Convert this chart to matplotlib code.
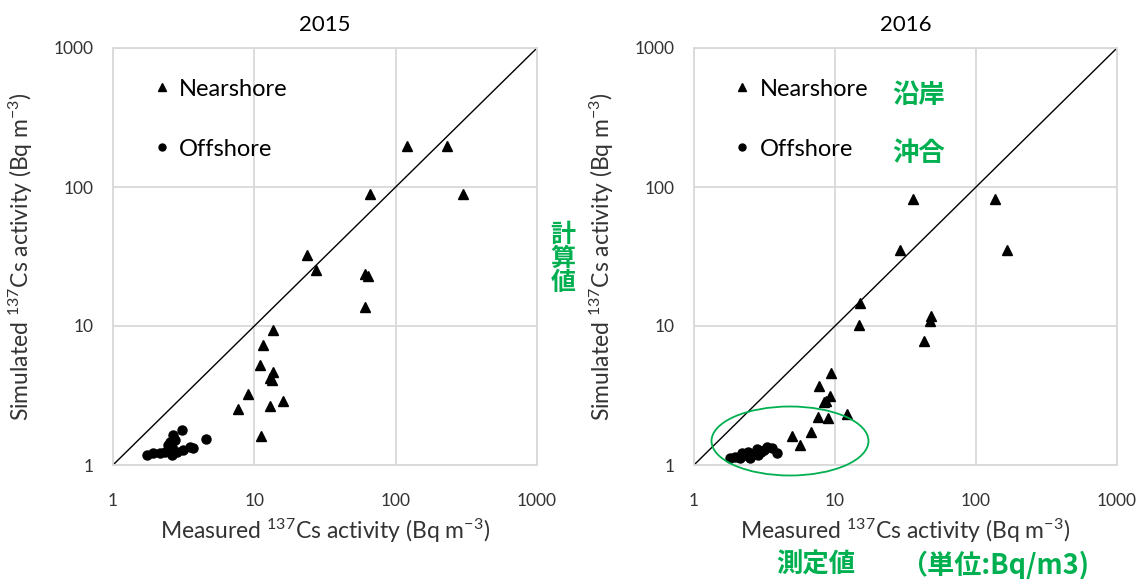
import matplotlib
matplotlib.use("Agg")
import matplotlib.pyplot as plt
from matplotlib.lines import Line2D
from matplotlib.patches import Ellipse

plt.rcParams['font.family'] = ['Lato', 'Noto Sans CJK JP', 'DejaVu Sans']
plt.rcParams['mathtext.default'] = 'regular'
plt.rcParams['axes.unicode_minus'] = False

years = ["2015", "2016"]

# 2015 data (Bq m-3)
near_x_2015 = [121, 230, 301, 66, 23.7, 27.3, 60.7, 64, 60.7, 13.5, 11.5, 10.9,
               13.5, 13.3, 13.0, 9.07, 7.7, 15.9, 12.9, 11.2]
near_y_2015 = [197, 197, 89, 89, 32.4, 25.3, 23.5, 22.9, 13.8, 9.36, 7.3, 5.24,
               4.69, 4.09, 4.2, 3.23, 2.52, 2.9, 2.66, 1.62]
off_x_2015 = [3.06, 4.55, 2.67, 2.53, 2.6, 3.5, 3.7, 3.15, 1.73, 1.93, 2.15, 2.33,
              2.6, 2.82, 2.46, 2.75]
off_y_2015 = [1.79, 1.53, 1.64, 1.47, 1.35, 1.35, 1.32, 1.28, 1.18, 1.21, 1.21, 1.25,
              1.18, 1.25, 1.39, 1.51]

# 2016 data (Bq m-3)
near_x_2016 = [35.7, 137, 28.8, 167, 15.1, 14.8, 48.2, 46.9, 42.6, 9.44, 7.72, 9.19,
               8.7, 8.33, 7.6, 8.94, 12.1, 6.81, 4.97, 5.63]
near_y_2016 = [81.5, 81.5, 35.2, 35.2, 14.7, 10.2, 11.8, 10.9, 7.8, 4.61, 3.7, 3.14,
               2.9, 2.85, 2.23, 2.17, 2.33, 1.74, 1.62, 1.39]
off_x_2016 = [1.80, 1.95, 2.12, 2.3, 2.43, 2.63, 2.78, 3.01, 3.27, 3.55, 3.89, 2.5,
              2.85, 2.2, 3.15]
off_y_2016 = [1.12, 1.15, 1.13, 1.18, 1.25, 1.2, 1.3, 1.25, 1.35, 1.32, 1.23, 1.13,
              1.18, 1.22, 1.28]

ticks = [1, 10, 100, 1000]
tick_labels = ["1", "10", "100", "1000"]

green = "#00b050"
grid_col = "#d9d9d9"

fig = plt.figure(figsize=(11.43, 5.79), dpi=100)
W, H = 1143, 579
ax1 = fig.add_axes([113 / W, (579 - 465) / H, 424 / W, 417 / H])
ax2 = fig.add_axes([694 / W, (579 - 465) / H, 423 / W, 417 / H])

panels = [
    (ax1, years[0], near_x_2015, near_y_2015, off_x_2015, off_y_2015),
    (ax2, years[1], near_x_2016, near_y_2016, off_x_2016, off_y_2016),
]

for ax, year, nx, ny, ox, oy in panels:
    ax.set_xscale('log')
    ax.set_yscale('log')
    ax.set_xlim(1, 1000)
    ax.set_ylim(1, 1000)
    ax.set_xticks(ticks)
    ax.set_xticklabels(tick_labels)
    ax.set_yticks(ticks)
    ax.set_yticklabels(tick_labels)
    ax.minorticks_off()
    ax.tick_params(length=0, labelsize=12.5, colors='#333333')
    ax.tick_params(axis='x', pad=20)
    ax.tick_params(axis='y', pad=14)
    ax.grid(True, color=grid_col, linewidth=1.3)
    ax.set_axisbelow(True)
    for s in ax.spines.values():
        s.set_color(grid_col)
        s.set_linewidth(1.3)

    ax.plot([1, 1000], [1, 1000], color='black', linewidth=1.0)
    ax.plot(ox, oy, 'o', color='black', markersize=6.5, linestyle='none')
    ax.plot(nx, ny, '^', color='black', markersize=7, linestyle='none')

    ax.set_title(year, fontsize=16, pad=12)
    ax.set_xlabel("Measured $^{137}$Cs activity (Bq m$^{-3}$)", fontsize=16.5,
                  color='#333333')
    ax.xaxis.set_label_coords(0.5, -0.125)
    ax.set_ylabel("Simulated $^{137}$Cs activity (Bq m$^{-3}$)", fontsize=16.5,
                  color='#333333')
    ax.yaxis.set_label_coords(-0.185, 0.5)

    handles = [
        Line2D([], [], marker='^', color='black', linestyle='none', markersize=6),
        Line2D([], [], marker='o', color='black', linestyle='none', markersize=5),
    ]
    ax.legend(handles, ["Nearshore", "Offshore"], loc='upper left',
              bbox_to_anchor=(0.07, 0.955), frameon=False, fontsize=17,
              handlelength=0.6, handletextpad=0.45, labelspacing=1.65,
              borderpad=0)

# green annotations
cjk = ['Noto Sans CJK JP', 'DejaVu Sans']
fig.text(563 / W, 1 - 259 / H, "計\n算\n値", color=green, fontsize=18,
         fontweight='bold', ha='center', va='center', linespacing=1.0, family=cjk)
fig.text(919 / W, 1 - 95 / H, "沿岸", color=green, fontsize=19,
         fontweight='bold', ha='center', va='center', family=cjk)
fig.text(919 / W, 1 - 153 / H, "沖合", color=green, fontsize=19,
         fontweight='bold', ha='center', va='center', family=cjk)
fig.text(816 / W, 1 - 565 / H, "測定値", color=green, fontsize=19,
         fontweight='bold', ha='center', va='center', family=cjk)
fig.text(995 / W, 1 - 565 / H, "（単位:Bq/m3)", color=green, fontsize=19.5,
         fontweight='bold', ha='center', va='center', family=cjk)

fig.add_artist(Ellipse((790 / W, 1 - 441 / H), 157 / W, 69 / H,
                       transform=fig.transFigure, fill=False,
                       edgecolor=green, linewidth=1.3))

fig.savefig("out.png", dpi=100)
